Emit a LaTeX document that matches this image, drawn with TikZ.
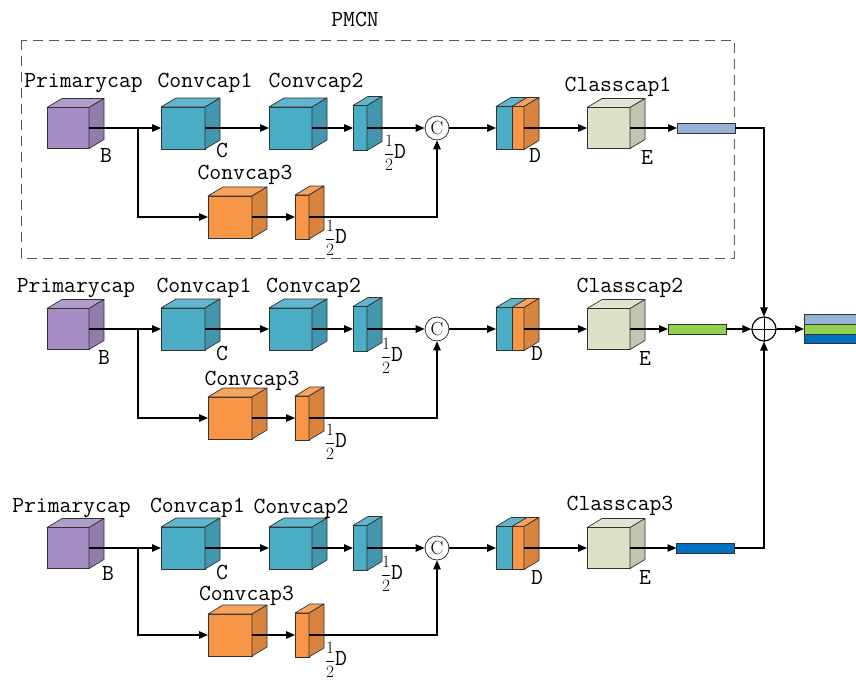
\documentclass[tikz,border=0pt]{standalone}
\usepackage{fontspec}
\usetikzlibrary{arrows.meta}
\definecolor{cpurple}{RGB}{166,142,196}
\definecolor{cblue}{RGB}{75,172,198}
\definecolor{corange}{RGB}{247,150,70}
\definecolor{cclass}{RGB}{220,225,200}
\definecolor{cbarA}{RGB}{149,179,215}
\definecolor{cbarB}{RGB}{146,208,80}
\definecolor{cbarC}{RGB}{0,112,192}
\definecolor{cedge}{RGB}{50,50,50}
\newcommand\halfD{{\fontsize{17}{17}\selectfont$\displaystyle\frac{1}{2}$}\fontsize{23}{25}\selectfont D}
\tikzset{
  face/.style={draw=cedge, line width=0.7pt, inner sep=0pt, outer sep=0pt},
  facedraw/.style={draw=cedge, line width=0.7pt, line join=round},
  ln/.style={line width=1.3pt, draw=black},
  arr/.style={ln, -{Triangle[length=9pt,width=7.5pt]}},
  lbl/.style={font=\ttfamily\fontsize{23}{25}\selectfont, inner sep=0pt, anchor=base},
  let/.style={font=\ttfamily\fontsize{23}{25}\selectfont, inner sep=0pt},
  frc/.style={font=\ttfamily, inner sep=0pt},
  circ/.style={circle, draw=cedge, line width=0.8pt, minimum size=24pt, inner sep=0pt, fill=white,
    font=\rmfamily\fontsize{19}{19}\selectfont},
  barbox/.style={draw=cedge, line width=0.7pt, inner sep=0pt, outer sep=0pt, minimum width=58pt, minimum height=10pt},
  band/.style={inner sep=0pt, outer sep=0pt, minimum width=52pt, anchor=north west},
  boxdash/.style={draw=gray!70!black, line width=1pt, dash pattern=on 10pt off 6pt}
}
% #1 name, #2 x, #3 y, #4 width, #5 height, #6 colour
\newcommand\mycube[6]{%
  \node[face, minimum width=#4pt, minimum height=#5pt, fill=#6] (#1) at (#2,#3) {};
  \filldraw[facedraw, fill=#6!88!white] (#1.north west) -- ++(15,-9) -- ++(#4,0) -- (#1.north east) -- cycle;
  \filldraw[facedraw, fill=#6!88!black] (#1.north east) -- ++(15,-9) -- ++(0,#5) -- (#1.south east) -- cycle;
}
% #1 id, #2 main y, #3 branch y, #4 bar x, #5 bar colour
\newcommand\caprow[5]{%
  \mycube{p#1}{68}{#2}{42}{41}{cpurple}
  \mycube{ca#1}{183}{#2}{44}{42}{cblue}
  \mycube{cb#1}{290.5}{#2}{43}{42}{cblue}
  \mycube{tb#1}{360}{#2}{14}{45}{cblue}
  \mycube{co#1}{230}{#3}{44}{42}{corange}
  \mycube{to#1}{302}{#3}{14}{44}{corange}
  \node[face, minimum width=16pt, minimum height=43pt, fill=cblue] (kb#1) at (504,#2) {};
  \node[face, minimum width=12pt, minimum height=43pt, fill=corange] (ko#1) at (518,#2) {};
  \filldraw[facedraw, fill=cblue!88!white] (kb#1.north west) -- ++(15,-9) -- ++(16,0) -- (kb#1.north east) -- cycle;
  \filldraw[facedraw, fill=corange!88!white] (ko#1.north west) -- ++(15,-9) -- ++(12,0) -- (ko#1.north east) -- cycle;
  \filldraw[facedraw, fill=corange!88!black] (ko#1.north east) -- ++(15,-9) -- ++(0,43) -- (ko#1.south east) -- cycle;
  \mycube{cl#1}{608.5}{#2}{43}{41}{cclass}
  \node[circ] (cc#1) at (437,#2) {C};
  \node[barbox, fill=#5] (bar#1) at (#4,#2) {};
  \coordinate (br#1) at (138,#2);
  \draw[ln] (p#1.east) -- (br#1);
  \draw[arr] (br#1) -- (ca#1.west);
  \draw[arr] (br#1) |- (co#1.west);
  \draw[arr] (ca#1.east) -- (cb#1.west);
  \draw[arr] (cb#1.east) -- (tb#1.west);
  \draw[arr] (tb#1.east) -- (cc#1.west);
  \draw[arr] (co#1.east) -- (to#1.west);
  \draw[arr] (to#1.east) -| (cc#1.south);
  \draw[arr] (cc#1.east) -- (kb#1.west);
  \draw[arr] (ko#1.east) -- (cl#1.west);
  \draw[arr] (cl#1.east) -- (bar#1.west);
}
\begin{document}
\begin{tikzpicture}[x=1pt, y=-1pt]
\useasboundingbox (0,0) rectangle (856,680);
\fill[white] (0,0) rectangle (856,680);
% PMCN box
\draw[boxdash] (21,40) rectangle (734,258);
\node[let] (pmcn) at (355,19) {PMCN};
% rows
\caprow{1}{128}{217}{706}{cbarA}
\caprow{2}{329}{418}{697}{cbarB}
\caprow{3}{548}{635}{705.5}{cbarC}
% sum node
\node[circle, draw=black, line width=1.2pt, minimum size=24pt, inner sep=0pt] (plus) at (764,329) {};
\draw[line width=1pt] (plus.north) -- (plus.south);
\draw[line width=1pt] (plus.west) -- (plus.east);
\draw[arr] (bar1.east) -| (plus.north);
\draw[arr] (bar2.east) -- (plus.west);
\draw[arr] (bar3.east) -| (plus.south);
% output stack
\node[band, fill=cbarA, minimum height=9.5pt] (oa) at (804,314.5) {};
\node[band, fill=cbarB, minimum height=10pt] (ob) at (oa.south west) {};
\node[band, fill=cbarC, minimum height=9.5pt] (oc) at (ob.south west) {};
\draw[cedge, line width=0.8pt] (oa.north east) -- (oa.north west) -- (oc.south west) -- (oc.south east);
\draw[cedge, line width=0.6pt] (ob.north west) -- (ob.north east);
\draw[cedge, line width=0.6pt] (oc.north west) -- (oc.north east);
\draw[arr] (plus.east) -- (ob.west);
% labels row 1
\node[lbl] (l1a) at (83.5,87) {Primarycap};
\node[lbl] (l1b) at (205,87) {Convcap1};
\node[lbl] (l1c) at (316,87) {Convcap2};
\node[lbl] (l1d) at (245,179) {Convcap3};
\node[lbl] (l1e) at (618,91) {Classcap1};
\node[let] (b1) at (106,155) {B};
\node[let] (c1) at (222,150) {C};
\node[let] (d1) at (535,155) {D};
\node[let] (e1) at (647,157) {E};
\node[frc] (f1a) at (395,153) {\halfD};
\node[frc] (f1b) at (336,238) {\halfD};
% labels row 2
\node[lbl] (l2a) at (76,292) {Primarycap};
\node[lbl] (l2b) at (204,292) {Convcap1};
\node[lbl] (l2c) at (313.5,292) {Convcap2};
\node[lbl] (l2d) at (252,385) {Convcap3};
\node[lbl] (l2e) at (630,292) {Classcap2};
\node[let] (b2) at (104,357) {B};
\node[let] (c2) at (222,353) {C};
\node[let] (d2) at (537,353) {D};
\node[let] (e2) at (645,358) {E};
\node[frc] (f2a) at (392,356) {\halfD};
\node[frc] (f2b) at (336,442) {\halfD};
% labels row 3
\node[lbl] (l3a) at (71.5,512) {Primarycap};
\node[lbl] (l3b) at (197.5,512) {Convcap1};
\node[lbl] (l3c) at (301,513) {Convcap2};
\node[lbl] (l3d) at (246.5,600) {Convcap3};
\node[lbl] (l3e) at (620,510) {Classcap3};
\node[let] (b3) at (108,573) {B};
\node[let] (c3) at (222,572) {C};
\node[let] (d3) at (537,577) {D};
\node[let] (e3) at (645,577) {E};
\node[frc] (f3a) at (392,574) {\halfD};
\node[frc] (f3b) at (336,660) {\halfD};
\end{tikzpicture}
\end{document}
